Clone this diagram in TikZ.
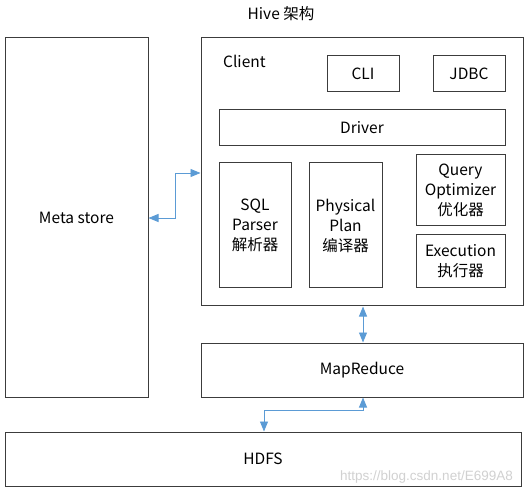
\documentclass[tikz,border=0pt]{standalone}
\usepackage{fontspec}
\setmainfont{Noto Sans CJK SC}
\newfontfamily\wmfont{Liberation Sans}
\usetikzlibrary{arrows.meta}
\definecolor{arrblue}{RGB}{91,155,213}
\definecolor{boxline}{RGB}{60,60,60}
\tikzset{
  box/.style={draw=boxline, line width=1pt, fill=white, rectangle, inner sep=0pt, align=center,
    font=\fontsize{15.5}{20}\selectfont},
  conn/.style={draw=arrblue, line width=0.9pt, {Triangle[length=10pt,width=8pt]}-{Triangle[length=10pt,width=8pt]}},
  lbl/.style={font=\fontsize{15.5}{20}\selectfont, inner sep=0pt}
}
\begin{document}
\begin{tikzpicture}[x=1pt,y=-1pt]
\useasboundingbox (0,0) rectangle (530,494);
% title
\node[lbl] (title) at (281,14) {Hive 架构};
% main boxes
\node[box, minimum width=143pt, minimum height=359pt] (meta) at (76.5,217.5) {Meta store};
\node[box, minimum width=322pt, minimum height=268pt] (client) at (362,172) {};
\node[box, minimum width=322pt, minimum height=54pt] (mr) at (362,370) {MapReduce};
\node[box, minimum width=516pt, minimum height=54pt] (hdfs) at (263,459) {HDFS};
% client internals
\node[lbl, anchor=west] (clientlbl) at (223,61) {Client};
\node[box, minimum width=72pt, minimum height=36pt] (cli) at (363,74) {CLI};
\node[box, minimum width=72pt, minimum height=36pt] (jdbc) at (469,74) {JDBC};
\node[box, minimum width=286pt, minimum height=36pt] (driver) at (362,128) {Driver};
\node[box, minimum width=72pt, minimum height=125pt] (sql) at (255,225.5) {SQL\\Parser\\解析器};
\node[box, minimum width=73pt, minimum height=125pt] (phys) at (345.5,225.5) {Physical\\Plan\\编译器};
\node[box, minimum width=89pt, minimum height=71pt] (qo) at (460.5,190.5) {Query\\Optimizer\\优化器};
\node[box, minimum width=89pt, minimum height=53pt] (exec) at (460.5,261.5) {Execution\\执行器};
% connectors
\coordinate (ma) at (175,218);
\coordinate (mb) at (175,173);
\draw[conn] (meta.east |- ma) -- (ma) -- (mb) -- (client.west |- mb);
\coordinate (cm) at (363,320);
\draw[conn] (client.south -| cm) -- (mr.north -| cm);
\coordinate (ha) at (363,410);
\coordinate (hb) at (264,410);
\draw[conn] (mr.south -| ha) -- (ha) -- (hb) -- (hdfs.north -| hb);
% watermark
\node[font=\wmfont\fontsize{13.5}{15}\selectfont, text=black!18, anchor=east, inner sep=0pt] (wm) at (513,477) {https://blog.csdn.net/E699A8};
\end{tikzpicture}
\end{document}
